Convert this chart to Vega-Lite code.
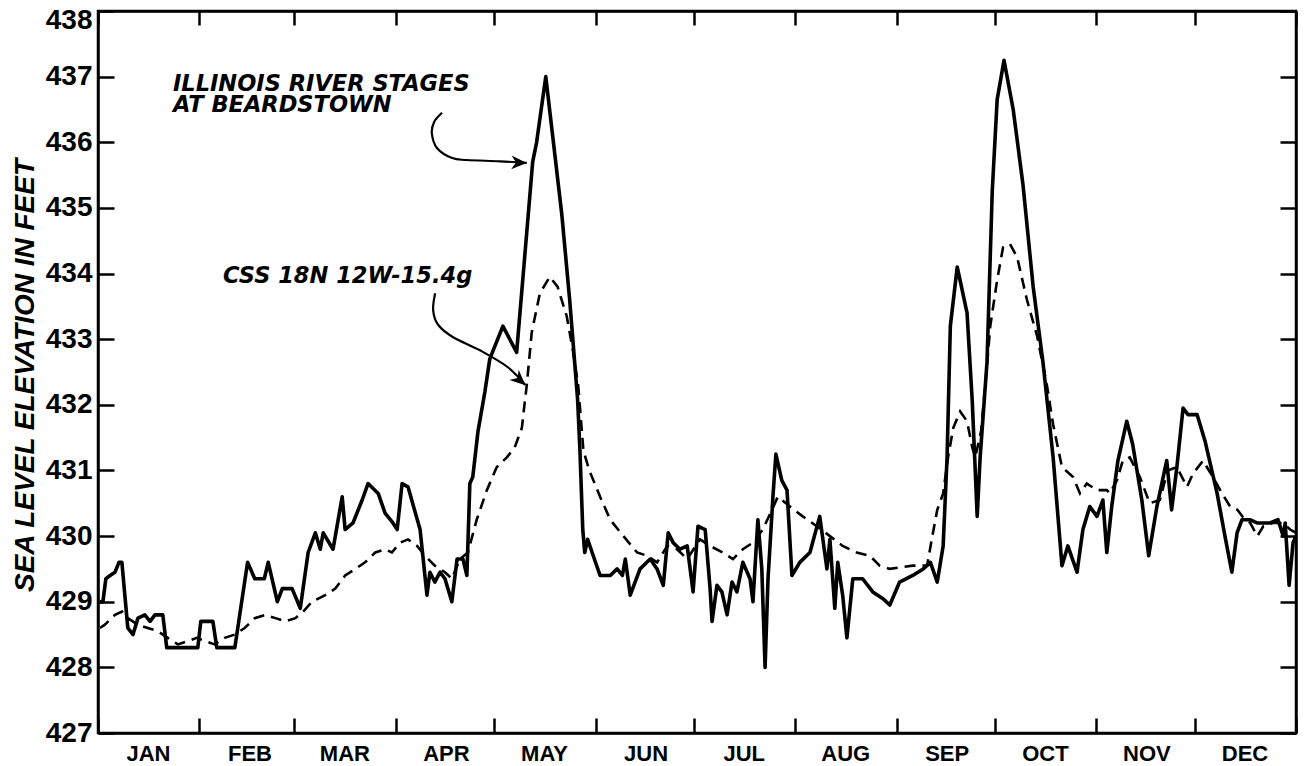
{
  "$schema": "https://vega.github.io/schema/vega-lite/v6.json",
  "width": 1198,
  "height": 722,
  "autosize": {"type": "none"},
  "padding": {"left": 98, "top": 11, "right": 11, "bottom": 33},
  "background": "white",
  "config": {
    "view": {"stroke": "black", "strokeWidth": 2.5},
    "axis": {
      "domainColor": "black", "domainWidth": 2.5, "tickColor": "black", "tickWidth": 2.5,
      "labelColor": "black", "titleColor": "black", "grid": false,
      "labelFont": "Liberation Sans", "titleFont": "Liberation Sans",
      "labelFlush": false, "labelBound": false, "labelOverlap": false
    }
  },
  "datasets": {
    "river": [
      {"day":0.6,"ft":429.0},{"day":1.5,"ft":429.0},{"day":2.4,"ft":429.35},{"day":3.7,"ft":429.4},{"day":5.2,"ft":429.45},{"day":6.4,"ft":429.6},{"day":7.3,"ft":429.6},{"day":9.1,"ft":428.6},{"day":10.7,"ft":428.5},{"day":12.2,"ft":428.75},{"day":14.3,"ft":428.8},{"day":15.9,"ft":428.7},{"day":17.4,"ft":428.8},{"day":19.8,"ft":428.8},{"day":21.0,"ft":428.3},{"day":30.5,"ft":428.3},{"day":31.4,"ft":428.7},{"day":35.1,"ft":428.7},{"day":36.3,"ft":428.3},{"day":41.8,"ft":428.3},{"day":45.7,"ft":429.6},{"day":47.9,"ft":429.35},{"day":50.8,"ft":429.35},{"day":52.0,"ft":429.6},{"day":54.8,"ft":429.0},{"day":56.3,"ft":429.2},{"day":59.3,"ft":429.2},{"day":61.8,"ft":428.9},{"day":64.2,"ft":429.75},{"day":66.4,"ft":430.05},{"day":67.9,"ft":429.8},{"day":68.8,"ft":430.05},{"day":71.8,"ft":429.8},{"day":74.6,"ft":430.6},{"day":75.5,"ft":430.1},{"day":77.9,"ft":430.2},{"day":80.7,"ft":430.55},{"day":82.5,"ft":430.8},{"day":85.6,"ft":430.65},{"day":87.7,"ft":430.35},{"day":90.1,"ft":430.2},{"day":91.4,"ft":430.1},{"day":92.9,"ft":430.8},{"day":94.7,"ft":430.75},{"day":98.4,"ft":430.1},{"day":100.5,"ft":429.1},{"day":101.4,"ft":429.45},{"day":102.9,"ft":429.3},{"day":104.5,"ft":429.45},{"day":106.0,"ft":429.35},{"day":108.1,"ft":429.0},{"day":109.7,"ft":429.65},{"day":111.5,"ft":429.65},{"day":112.7,"ft":429.4},{"day":113.6,"ft":430.8},{"day":114.5,"ft":430.9},{"day":116.1,"ft":431.6},{"day":118.2,"ft":432.2},{"day":119.7,"ft":432.7},{"day":123.7,"ft":433.2},{"day":127.9,"ft":432.8},{"day":132.8,"ft":435.7},{"day":134.0,"ft":436.0},{"day":136.8,"ft":437.0},{"day":138.9,"ft":436.1},{"day":141.7,"ft":434.9},{"day":144.1,"ft":433.6},{"day":146.5,"ft":432.1},{"day":147.2,"ft":431.35},{"day":148.1,"ft":430.1},{"day":148.7,"ft":429.75},{"day":149.6,"ft":429.95},{"day":151.3,"ft":429.7},{"day":153.4,"ft":429.4},{"day":156.5,"ft":429.4},{"day":158.6,"ft":429.5},{"day":160.2,"ft":429.4},{"day":161.1,"ft":429.65},{"day":162.6,"ft":429.1},{"day":165.6,"ft":429.5},{"day":168.7,"ft":429.65},{"day":170.8,"ft":429.5},{"day":172.7,"ft":429.25},{"day":174.2,"ft":430.05},{"day":175.7,"ft":429.9},{"day":177.8,"ft":429.8},{"day":180.0,"ft":429.85},{"day":181.8,"ft":429.15},{"day":183.3,"ft":430.15},{"day":185.5,"ft":430.1},{"day":187.0,"ft":429.2},{"day":187.6,"ft":428.7},{"day":189.1,"ft":429.25},{"day":190.6,"ft":429.15},{"day":192.2,"ft":428.8},{"day":193.7,"ft":429.3},{"day":195.2,"ft":429.15},{"day":197.0,"ft":429.6},{"day":199.2,"ft":429.35},{"day":200.1,"ft":429.0},{"day":201.6,"ft":430.25},{"day":202.8,"ft":429.5},{"day":203.8,"ft":428.0},{"day":204.7,"ft":429.35},{"day":206.2,"ft":430.6},{"day":207.1,"ft":431.25},{"day":208.9,"ft":430.85},{"day":210.5,"ft":430.7},{"day":212.0,"ft":429.4},{"day":214.4,"ft":429.6},{"day":217.5,"ft":429.75},{"day":220.5,"ft":430.3},{"day":222.7,"ft":429.5},{"day":223.6,"ft":429.95},{"day":225.1,"ft":428.9},{"day":226.0,"ft":429.6},{"day":227.5,"ft":429.1},{"day":228.8,"ft":428.45},{"day":230.6,"ft":429.35},{"day":233.6,"ft":429.35},{"day":236.7,"ft":429.15},{"day":239.7,"ft":429.05},{"day":241.9,"ft":428.95},{"day":244.9,"ft":429.3},{"day":248.9,"ft":429.4},{"day":252.1,"ft":429.5},{"day":254.3,"ft":429.6},{"day":256.4,"ft":429.3},{"day":258.2,"ft":429.85},{"day":259.4,"ft":431.2},{"day":260.4,"ft":433.2},{"day":262.5,"ft":434.1},{"day":265.5,"ft":433.4},{"day":267.1,"ft":432.05},{"day":268.6,"ft":430.3},{"day":269.5,"ft":431.2},{"day":271.6,"ft":432.65},{"day":273.2,"ft":435.25},{"day":274.7,"ft":436.65},{"day":276.8,"ft":437.25},{"day":279.6,"ft":436.5},{"day":282.6,"ft":435.35},{"day":285.7,"ft":433.8},{"day":288.7,"ft":432.65},{"day":291.8,"ft":431.2},{"day":294.5,"ft":429.55},{"day":296.3,"ft":429.85},{"day":299.1,"ft":429.45},{"day":300.9,"ft":430.1},{"day":303.0,"ft":430.45},{"day":305.2,"ft":430.3},{"day":307.0,"ft":430.55},{"day":308.2,"ft":429.75},{"day":309.7,"ft":430.45},{"day":311.6,"ft":431.15},{"day":314.3,"ft":431.75},{"day":316.1,"ft":431.4},{"day":318.9,"ft":430.55},{"day":321.0,"ft":429.7},{"day":323.5,"ft":430.45},{"day":326.5,"ft":431.15},{"day":328.0,"ft":430.4},{"day":329.6,"ft":431.05},{"day":331.5,"ft":431.95},{"day":333.0,"ft":431.85},{"day":335.8,"ft":431.85},{"day":338.2,"ft":431.45},{"day":341.9,"ft":430.65},{"day":344.3,"ft":430.0},{"day":346.4,"ft":429.45},{"day":348.0,"ft":430.05},{"day":349.5,"ft":430.25},{"day":351.9,"ft":430.25},{"day":354.1,"ft":430.2},{"day":358.0,"ft":430.2},{"day":360.5,"ft":430.25},{"day":362.1,"ft":430.0},{"day":362.7,"ft":430.2},{"day":363.9,"ft":429.25},{"day":365.1,"ft":429.9},{"day":366.0,"ft":430.0}
    ],
    "css": [
      {"day":0.6,"ft":428.6},{"day":2.1,"ft":428.65},{"day":5.2,"ft":428.8},{"day":7.3,"ft":428.85},{"day":9.1,"ft":428.75},{"day":12.2,"ft":428.65},{"day":15.2,"ft":428.6},{"day":18.3,"ft":428.55},{"day":21.3,"ft":428.45},{"day":24.4,"ft":428.35},{"day":27.4,"ft":428.4},{"day":30.2,"ft":428.45},{"day":32.6,"ft":428.4},{"day":35.7,"ft":428.35},{"day":38.7,"ft":428.45},{"day":41.8,"ft":428.5},{"day":44.8,"ft":428.6},{"day":47.9,"ft":428.75},{"day":51.1,"ft":428.8},{"day":54.2,"ft":428.75},{"day":57.2,"ft":428.7},{"day":60.3,"ft":428.75},{"day":62.7,"ft":428.85},{"day":65.4,"ft":429.0},{"day":69.4,"ft":429.1},{"day":72.5,"ft":429.2},{"day":75.5,"ft":429.4},{"day":78.6,"ft":429.5},{"day":81.6,"ft":429.6},{"day":84.7,"ft":429.75},{"day":87.7,"ft":429.8},{"day":89.8,"ft":429.75},{"day":92.3,"ft":429.9},{"day":94.7,"ft":429.95},{"day":97.5,"ft":429.85},{"day":99.9,"ft":429.7},{"day":102.9,"ft":429.55},{"day":106.0,"ft":429.45},{"day":108.1,"ft":429.35},{"day":110.6,"ft":429.65},{"day":113.0,"ft":429.75},{"day":115.7,"ft":430.25},{"day":118.8,"ft":430.7},{"day":121.8,"ft":431.05},{"day":124.9,"ft":431.2},{"day":127.3,"ft":431.35},{"day":129.5,"ft":431.65},{"day":130.4,"ft":432.05},{"day":131.0,"ft":432.3},{"day":132.5,"ft":433.1},{"day":135.0,"ft":433.7},{"day":138.0,"ft":433.95},{"day":140.4,"ft":433.8},{"day":143.2,"ft":433.35},{"day":145.0,"ft":432.85},{"day":146.7,"ft":432.3},{"day":148.3,"ft":431.3},{"day":150.1,"ft":431.0},{"day":153.4,"ft":430.6},{"day":156.5,"ft":430.25},{"day":160.5,"ft":430.0},{"day":164.7,"ft":429.75},{"day":167.8,"ft":429.7},{"day":170.8,"ft":429.6},{"day":173.9,"ft":429.85},{"day":176.9,"ft":429.8},{"day":180.0,"ft":429.65},{"day":183.9,"ft":429.95},{"day":187.0,"ft":429.85},{"day":190.9,"ft":429.75},{"day":194.0,"ft":429.65},{"day":197.0,"ft":429.8},{"day":200.1,"ft":429.9},{"day":203.1,"ft":430.1},{"day":205.9,"ft":430.4},{"day":207.7,"ft":430.6},{"day":211.4,"ft":430.45},{"day":215.3,"ft":430.3},{"day":219.6,"ft":430.15},{"day":223.6,"ft":430.0},{"day":227.5,"ft":429.85},{"day":231.8,"ft":429.75},{"day":235.8,"ft":429.7},{"day":238.8,"ft":429.55},{"day":241.9,"ft":429.5},{"day":248.9,"ft":429.55},{"day":253.3,"ft":429.55},{"day":254.9,"ft":430.0},{"day":256.4,"ft":430.4},{"day":258.2,"ft":430.65},{"day":259.7,"ft":431.2},{"day":261.3,"ft":431.65},{"day":263.4,"ft":431.9},{"day":265.5,"ft":431.75},{"day":267.1,"ft":431.35},{"day":268.0,"ft":431.2},{"day":269.8,"ft":431.6},{"day":271.6,"ft":432.6},{"day":272.6,"ft":433.2},{"day":274.7,"ft":433.9},{"day":276.5,"ft":434.4},{"day":278.6,"ft":434.45},{"day":280.8,"ft":434.25},{"day":283.8,"ft":433.6},{"day":286.9,"ft":433.05},{"day":289.9,"ft":432.3},{"day":291.8,"ft":431.7},{"day":294.5,"ft":431.05},{"day":297.9,"ft":430.9},{"day":300.0,"ft":430.65},{"day":302.1,"ft":430.8},{"day":305.2,"ft":430.7},{"day":308.2,"ft":430.7},{"day":309.1,"ft":430.65},{"day":311.3,"ft":430.85},{"day":313.1,"ft":431.15},{"day":315.2,"ft":431.2},{"day":318.3,"ft":430.9},{"day":321.3,"ft":430.5},{"day":324.4,"ft":430.55},{"day":326.8,"ft":431.0},{"day":329.6,"ft":431.05},{"day":332.7,"ft":430.75},{"day":334.5,"ft":430.95},{"day":337.6,"ft":431.15},{"day":340.6,"ft":430.9},{"day":343.4,"ft":430.65},{"day":345.9,"ft":430.45},{"day":348.1,"ft":430.4},{"day":349.6,"ft":430.3},{"day":352.0,"ft":430.2},{"day":354.2,"ft":430.0},{"day":356.0,"ft":430.15},{"day":359.0,"ft":430.2},{"day":362.1,"ft":430.2},{"day":364.2,"ft":430.1},{"day":366.0,"ft":430.05}
    ],
    "arrows": [
      {"arrow":"river","i":0,"day":105.1,"ft":436.45},{"arrow":"river","i":1,"day":102.7,"ft":436.31},{"arrow":"river","i":2,"day":102.0,"ft":436.13},{"arrow":"river","i":3,"day":103.6,"ft":435.91},{"arrow":"river","i":4,"day":108.2,"ft":435.76},{"arrow":"river","i":5,"day":112.7,"ft":435.73},{"arrow":"river","i":6,"day":122.8,"ft":435.71},{"arrow":"river","i":7,"day":131.0,"ft":435.685},
      {"arrow":"css","i":0,"day":103.0,"ft":433.70},{"arrow":"css","i":1,"day":102.4,"ft":433.44},{"arrow":"css","i":2,"day":103.9,"ft":433.22},{"arrow":"css","i":3,"day":108.5,"ft":433.03},{"arrow":"css","i":4,"day":116.7,"ft":432.83},{"arrow":"css","i":5,"day":125.0,"ft":432.58},{"arrow":"css","i":6,"day":130.6,"ft":432.30}
    ],
    "notes": [
      {"day":22.9,"ft":436.78,"text":["ILLINOIS RIVER STAGES","AT BEARDSTOWN"]},
      {"day":38.2,"ft":433.86,"text":["CSS 18N 12W-15.4g"]}
    ]
  },
  "resolve": {"axis": {"x": "independent", "y": "independent"}},
  "layer": [
    {
      "data": {"name": "river"},
      "mark": {"type": "line", "color": "black", "strokeWidth": 3.6, "strokeJoin": "round", "clip": true},
      "encoding": {
        "x": {"field": "day", "type": "quantitative",
          "scale": {"domain": [0, 366], "nice": false, "zero": false},
          "axis": {"orient": "bottom", "title": null,
            "values": [0, 31, 60, 91, 121, 152, 182, 213, 244, 274, 305, 335, 366],
            "labelExpr": "['JAN','FEB','MAR','APR','MAY','JUN','JUL','AUG','SEP','OCT','NOV','DEC',''][indexof([0,31,60,91,121,152,182,213,244,274,305,335,366], datum.value)]",
            "labelOffset": 50, "labelAlign": "center", "labelBaseline": "top",
            "tickSize": -15, "labelPadding": 25, "labelFontSize": 22, "labelFontWeight": "bold"}},
        "y": {"field": "ft", "type": "quantitative",
          "scale": {"domain": [427, 438], "nice": false, "zero": false},
          "axis": {"orient": "left", "values": [427,428,429,430,431,432,433,434,435,436,437,438], "format": "d",
            "tickSize": -16, "labelPadding": 22, "labelFontSize": 28, "labelFontWeight": "bold",
            "labelOffset": {"condition": {"test": "datum.value == 438", "value": 9}, "value": 0},
            "title": "SEA LEVEL ELEVATION IN FEET", "titleFontSize": 28, "titleFontStyle": "italic", "titleFontWeight": "bold",
            "titleAngle": -90, "titleX": -65, "titleY": 364, "titleAlign": "center", "titleBaseline": "alphabetic"}}
      }
    },
    {
      "data": {"name": "css"},
      "mark": {"type": "line", "color": "black", "strokeWidth": 2.6, "strokeDash": [11, 7], "clip": true},
      "encoding": {
        "x": {"field": "day", "type": "quantitative",
          "axis": {"orient": "top", "title": null, "labels": false,
            "values": [0, 31, 60, 91, 121, 152, 182, 213, 244, 274, 305, 335, 366], "tickSize": -14}},
        "y": {"field": "ft", "type": "quantitative",
          "axis": {"orient": "right", "title": null, "labels": false,
            "values": [427,428,429,430,431,432,433,434,435,436,437,438], "tickSize": -16}}
      }
    },
    {
      "data": {"name": "arrows"},
      "mark": {"type": "line", "color": "black", "strokeWidth": 2.2, "interpolate": "cardinal"},
      "encoding": {
        "x": {"field": "day", "type": "quantitative", "axis": null},
        "y": {"field": "ft", "type": "quantitative", "axis": null},
        "detail": {"field": "arrow"},
        "order": {"field": "i", "type": "quantitative"}
      }
    },
    {
      "data": {"name": "arrows"},
      "transform": [{"filter": "datum.arrow == 'river' && datum.i == 7"}],
      "mark": {"type": "point", "shape": "M0,0 L-1,-0.45 L-0.7,0 L-1,0.45 Z", "filled": true, "color": "black", "size": 950, "angle": 2, "opacity": 1},
      "encoding": {
        "x": {"field": "day", "type": "quantitative", "axis": null},
        "y": {"field": "ft", "type": "quantitative", "axis": null}
      }
    },
    {
      "data": {"name": "arrows"},
      "transform": [{"filter": "datum.arrow == 'css' && datum.i == 6"}],
      "mark": {"type": "point", "shape": "M0,0 L-1,-0.45 L-0.7,0 L-1,0.45 Z", "filled": true, "color": "black", "size": 950, "angle": 42, "opacity": 1},
      "encoding": {
        "x": {"field": "day", "type": "quantitative", "axis": null},
        "y": {"field": "ft", "type": "quantitative", "axis": null}
      }
    },
    {
      "data": {"name": "notes"},
      "mark": {"type": "text", "align": "left", "baseline": "alphabetic", "lineHeight": 21, "font": "DejaVu Sans", "fontSize": 22.5, "fontStyle": "italic", "fontWeight": "bold", "color": "black"},
      "encoding": {
        "x": {"field": "day", "type": "quantitative", "axis": null},
        "y": {"field": "ft", "type": "quantitative", "axis": null},
        "text": {"field": "text"}
      }
    }
  ]
}
